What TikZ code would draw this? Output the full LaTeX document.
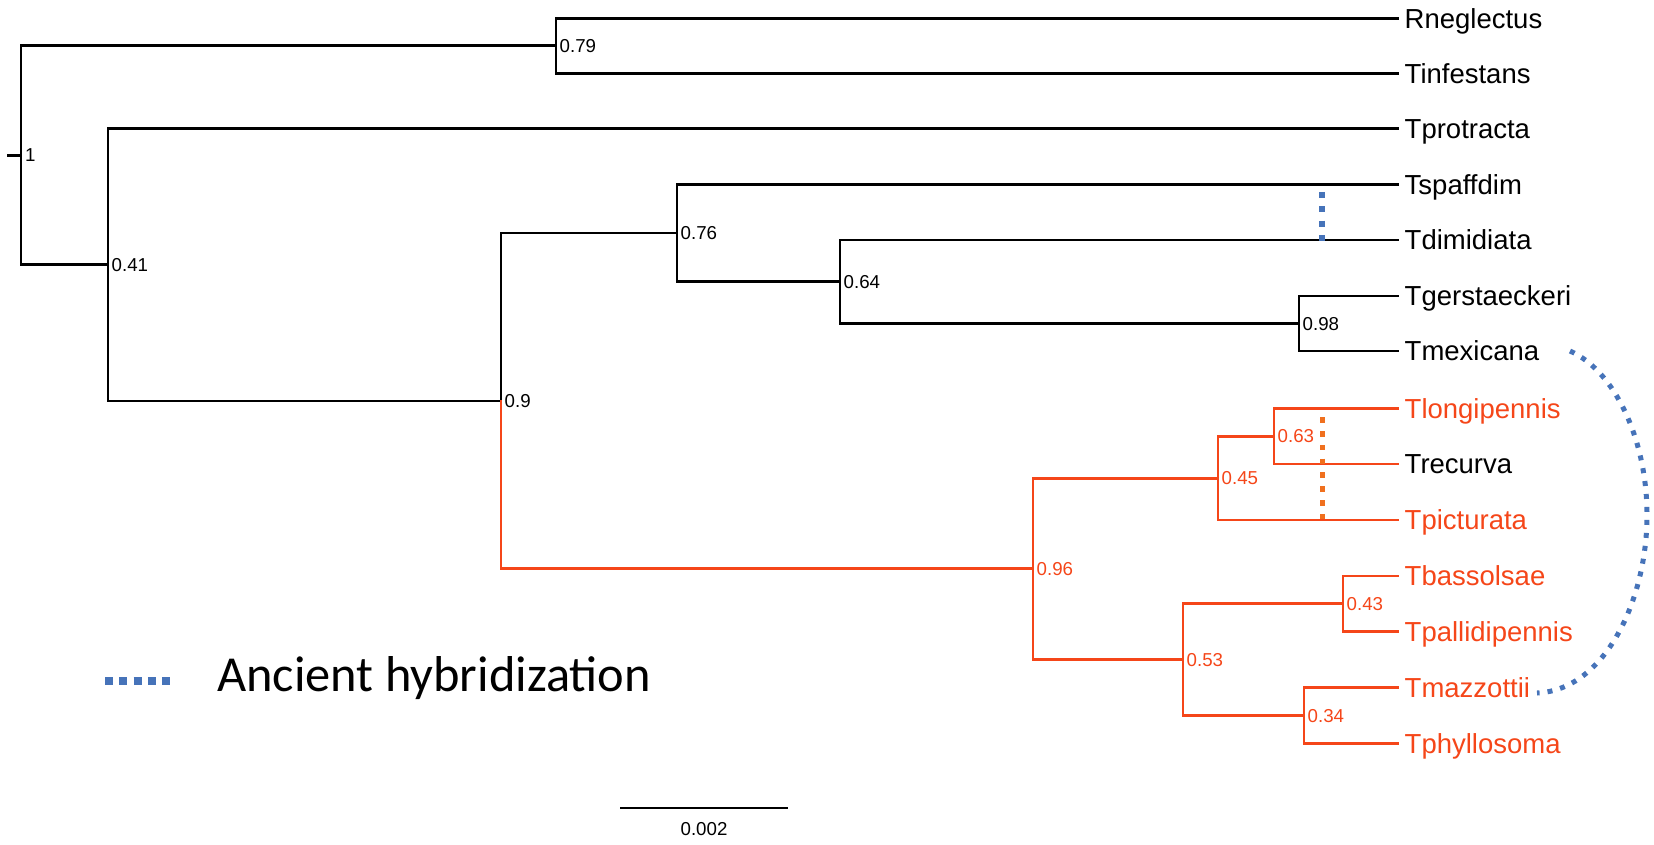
\documentclass[tikz,border=0pt]{standalone}
\usepackage{fontspec}
\setmainfont{Liberation Sans}
\newfontfamily\legendfont{Carlito}
\definecolor{treeorange}{RGB}{245,70,25}
\definecolor{hyborange}{RGB}{240,112,30}
\definecolor{hybblue}{RGB}{70,115,185}
\begin{document}
\begin{tikzpicture}[x=1pt,y=-1pt,
  branch/.style={line width=2.8pt,draw=black,line cap=rect},
  obranch/.style={branch,draw=treeorange},
  tiplabel/.style={anchor=base west,inner sep=0pt,font=\fontsize{27.5}{30}\selectfont},
  otiplabel/.style={tiplabel,text=treeorange},
  nodelabel/.style={anchor=base west,inner sep=0pt,font=\fontsize{18.7}{20}\selectfont},
  onodelabel/.style={nodelabel,text=treeorange},
  hybline/.style={line width=5pt,draw=hybblue,dash pattern=on 5pt off 8pt},
]
\useasboundingbox (0,0) rectangle (1654,845);
% tips
\coordinate (tRn) at (1398,18.3);
\coordinate (tTi) at (1398,73.3);
\coordinate (tTp) at (1398,128.3);
\coordinate (tTs) at (1398,184.3);
\coordinate (tTd) at (1398,240);
\coordinate (tTg) at (1398,296);
\coordinate (tTm) at (1398,351);
\coordinate (tTl) at (1398,408.3);
\coordinate (tTr) at (1398,464);
\coordinate (tTpi) at (1398,520);
\coordinate (tTb) at (1398,576);
\coordinate (tTpa) at (1398,631.7);
\coordinate (tTma) at (1398,687.3);
\coordinate (tTph) at (1398,743.3);
% internal nodes
\coordinate (root) at (21,155.2);
\coordinate (rootstem) at (8,155.2);
\coordinate (n079) at (556,45.8);
\coordinate (n041) at (108,264.6);
\coordinate (n09) at (501,400.9);
\coordinate (n076) at (677,233);
\coordinate (n064) at (840,281.75);
\coordinate (n098) at (1299,323.5);
\coordinate (n096) at (1033,568.85);
\coordinate (n045) at (1218,478.1);
\coordinate (n063) at (1274,436.15);
\coordinate (n053) at (1183,659.6);
\coordinate (n043) at (1343,603.85);
\coordinate (n034) at (1304,715.3);
% black branches
\draw[branch] (rootstem) -- (root);
\draw[branch] (root) |- (n079);
\draw[branch] (root) |- (n041);
\draw[branch] (n079) |- (tRn);
\draw[branch] (n079) |- (tTi);
\draw[branch] (n041) |- (tTp);
\draw[branch] (n041) |- (n09);
\draw[branch] (n09) |- (n076);
\draw[branch] (n076) |- (tTs);
\draw[branch] (n076) |- (n064);
\draw[branch] (n064) |- (tTd);
\draw[branch] (n064) |- (n098);
\draw[branch] (n098) |- (tTg);
\draw[branch] (n098) |- (tTm);
% orange branches
\draw[obranch] (n09) |- (n096);
\draw[obranch] (n096) |- (n045);
\draw[obranch] (n096) |- (n053);
\draw[obranch] (n045) |- (n063);
\draw[obranch] (n045) |- (tTpi);
\draw[obranch] (n063) |- (tTl);
\draw[obranch] (n063) |- (tTr);
\draw[obranch] (n053) |- (n043);
\draw[obranch] (n053) |- (n034);
\draw[obranch] (n043) |- (tTb);
\draw[obranch] (n043) |- (tTpa);
\draw[obranch] (n034) |- (tTma);
\draw[obranch] (n034) |- (tTph);
% tip labels
\node[tiplabel] (lRn) at ([xshift=6.5pt,yshift=-9.85pt]tRn) {Rneglectus};
\node[tiplabel] (lTi) at ([xshift=6.5pt,yshift=-9.85pt]tTi) {Tinfestans};
\node[tiplabel] (lTp) at ([xshift=6.5pt,yshift=-9.85pt]tTp) {Tprotracta};
\node[tiplabel] (lTs) at ([xshift=6.5pt,yshift=-9.85pt]tTs) {Tspaffdim};
\node[tiplabel] (lTd) at ([xshift=6.5pt,yshift=-9.85pt]tTd) {Tdimidiata};
\node[tiplabel] (lTg) at ([xshift=6.5pt,yshift=-9.85pt]tTg) {Tgerstaeckeri};
\node[tiplabel] (lTm) at ([xshift=6.5pt,yshift=-9.85pt]tTm) {Tmexicana};
\node[otiplabel] (lTl) at ([xshift=6.5pt,yshift=-9.85pt]tTl) {Tlongipennis};
\node[tiplabel] (lTr) at ([xshift=6.5pt,yshift=-9.85pt]tTr) {Trecurva};
\node[otiplabel] (lTpi) at ([xshift=6.5pt,yshift=-9.85pt]tTpi) {Tpicturata};
\node[otiplabel] (lTb) at ([xshift=6.5pt,yshift=-9.85pt]tTb) {Tbassolsae};
\node[otiplabel] (lTpa) at ([xshift=6.5pt,yshift=-9.85pt]tTpa) {Tpallidipennis};
\node[otiplabel] (lTma) at ([xshift=6.5pt,yshift=-9.85pt]tTma) {Tmazzottii};
\node[otiplabel] (lTph) at ([xshift=6.5pt,yshift=-9.85pt]tTph) {Tphyllosoma};
% node support labels
\node[nodelabel] (s1) at ([xshift=4pt,yshift=-6.7pt]root) {1};
\node[nodelabel] (s079) at ([xshift=3.5pt,yshift=-6.7pt]n079) {0.79};
\node[nodelabel] (s041) at ([xshift=3.5pt,yshift=-6.7pt]n041) {0.41};
\node[nodelabel] (s09) at ([xshift=3.5pt,yshift=-6.7pt]n09) {0.9};
\node[nodelabel] (s076) at ([xshift=3.5pt,yshift=-6.7pt]n076) {0.76};
\node[nodelabel] (s064) at ([xshift=3.5pt,yshift=-6.7pt]n064) {0.64};
\node[nodelabel] (s098) at ([xshift=3.5pt,yshift=-6.7pt]n098) {0.98};
\node[onodelabel] (s096) at ([xshift=3.5pt,yshift=-6.7pt]n096) {0.96};
\node[onodelabel] (s045) at ([xshift=3.5pt,yshift=-6.7pt]n045) {0.45};
\node[onodelabel] (s063) at ([xshift=3.5pt,yshift=-6.7pt]n063) {0.63};
\node[onodelabel] (s053) at ([xshift=3.5pt,yshift=-6.7pt]n053) {0.53};
\node[onodelabel] (s043) at ([xshift=3.5pt,yshift=-6.7pt]n043) {0.43};
\node[onodelabel] (s034) at ([xshift=3.5pt,yshift=-6.7pt]n034) {0.34};
% hybridization marks
\coordinate (hbA) at (1322.3,192);
\coordinate (hbB) at (1322.3,241);
\draw[line width=6pt,draw=hybblue,dash pattern=on 6pt off 8.3pt] (hbA) -- (hbB);
\coordinate (hoA) at (1322.3,417.2);
\coordinate (hoB) at (1322.3,519.5);
\draw[line width=5.5pt,draw=hyborange,dash pattern=on 5.5pt off 8.3pt] (hoA) -- (hoB);
\coordinate (cvA) at (1570,351);
\coordinate (cvA1) at (1615,371);
\coordinate (cvA2) at (1647,440);
\coordinate (cvM) at (1647,515);
\coordinate (cvB1) at (1647,600);
\coordinate (cvB2) at (1605,690);
\coordinate (cvB) at (1537,693);
\draw[hybline] (cvA) .. controls (cvA1) and (cvA2) .. (cvM) .. controls (cvB1) and (cvB2) .. (cvB);
% legend
\coordinate (lgA) at (105,681);
\coordinate (lgB) at (170,681);
\draw[line width=8pt,draw=hybblue,dash pattern=on 8pt off 6.25pt] (lgA) -- (lgB);
\node[anchor=base west,inner sep=0pt,font=\legendfont\fontsize{50.4}{55}\selectfont] (lgT) at (217,691.5) {Ancient hybridization};
% scale bar
\coordinate (sbL) at (620,808);
\coordinate (sbR) at (787.6,808);
\draw[line width=2.8pt] (sbL) -- (sbR);
\node[anchor=base,inner sep=0pt,font=\fontsize{18.7}{20}\selectfont] (sbT) at (704,835) {0.002};
\end{tikzpicture}
\end{document}
